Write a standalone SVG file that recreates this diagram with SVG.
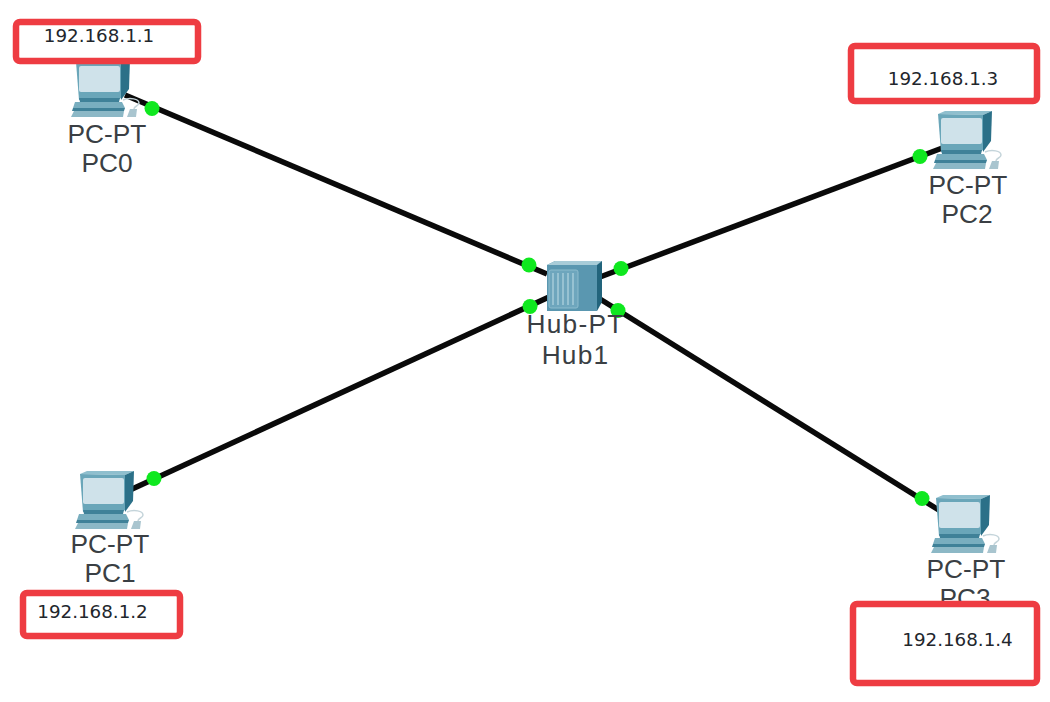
<svg xmlns="http://www.w3.org/2000/svg" width="1050" height="702" viewBox="0 0 1050 702">
<style>
.lbl{font-family:"Liberation Sans",Arial,sans-serif;font-size:26.3px;fill:#3a3f44;text-anchor:middle}
.hl{letter-spacing:1.2px}
.ip{font-family:"DejaVu Sans",sans-serif;font-size:18.3px;fill:#22262c;text-anchor:middle}
.box{fill:#fff;stroke:#ee3c42;stroke-width:6.5}
.link{stroke:#0a0a0a;stroke-width:5.5;fill:none}
.dot{fill:#0fe81f}
</style>
<defs>
<g id="pc">
<path d="M8 4 L15 1 L62 1 L53 5Z" fill="#8fbfce"/>
<path d="M8 4 L53 5 L53 40 L50 42 L11 42Z" fill="#6aa6b9"/>
<path d="M53 5 L62 1 L61 31 L53 42Z" fill="#2b7088"/>
<rect x="11" y="8" width="41" height="26" rx="2" fill="#cfe2ea"/>
<path d="M11 40 L52 40 L51 44 L12 44Z" fill="#3f8198"/>
<path d="M7 44 L54 44 L57 50 L5 50Z" fill="#79aebf"/>
<path d="M5 50 L57 50 L56 53 L4 53Z" fill="#3f8198"/>
<path d="M3 59 L6 53 L56 53 L55 59Z" fill="#8cb8c6"/>
<path d="M55 42 C62 39 71 41 71 45 C71 48 66 48 66 51" fill="none" stroke="#c4d4da" stroke-width="1.500"/>
<path d="M59 59 L62 51 L69 51 L68 59Z" fill="#a9c5cf"/>
</g>
</defs>
<rect width="1050" height="702" fill="#fff"/>
<g id="connectors">
<line class="link" x1="125" y1="95" x2="547" y2="274"/>
<line class="link" x1="130" y1="490" x2="549" y2="297"/>
<line class="link" x1="600" y1="277" x2="945" y2="147"/>
<line class="link" x1="600" y1="299" x2="942" y2="512"/>
<circle class="dot" cx="152" cy="108.500" r="7.500"/>
<circle class="dot" cx="529" cy="265" r="7.500"/>
<circle class="dot" cx="154" cy="478.500" r="7.500"/>
<circle class="dot" cx="530" cy="306.500" r="7.500"/>
<circle class="dot" cx="621" cy="268.500" r="7.500"/>
<circle class="dot" cx="920" cy="156.500" r="7.500"/>
<circle class="dot" cx="618" cy="310.500" r="7.500"/>
<circle class="dot" cx="922" cy="498.500" r="7.500"/>
</g>
<g id="hub">
<path d="M547 265 L555 261 L602 261 L597 265 L597 311 L547 311Z" fill="#5a97b0"/>
<path d="M547 265 L555 261 L602 261 L597 265Z" fill="#a8ccd8"/>
<path d="M597 265 L602 261 L602 302 L597 311Z" fill="#22647c"/>
<rect x="549" y="270" width="29" height="38" rx="2" fill="#6ea6bd" stroke="#8cbccd"/>
<path d="M553 273V305M558 273V305M563 273V305M568 273V305M573 273V305" stroke="#a5cbd9" stroke-width="1.500"/>
<text class="lbl hl" x="575.500" y="333">Hub-PT</text>
<text class="lbl hl" x="575.500" y="364">Hub1</text>
</g>
<g id="pc0">
<use href="#pc" x="68" y="58"/>
<text class="lbl" x="107" y="143">PC-PT</text>
<text class="lbl" x="107" y="172">PC0</text>
</g>
<g id="pc1">
<use href="#pc" x="72" y="470"/>
<text class="lbl" x="110" y="553">PC-PT</text>
<text class="lbl" x="110" y="582">PC1</text>
</g>
<g id="pc2">
<use href="#pc" x="930" y="110"/>
<text class="lbl" x="968" y="194">PC-PT</text>
<text class="lbl" x="967" y="223">PC2</text>
</g>
<g id="pc3">
<use href="#pc" x="928" y="494"/>
<text class="lbl" x="966" y="578">PC-PT</text>
<text class="lbl" x="965" y="607">PC3</text>
</g>
<g id="ip1">
<rect class="box" x="16" y="22" width="182" height="39" rx="4"/>
<text class="ip" x="99" y="42">192.168.1.1</text>
</g>
<g id="ip3">
<rect class="box" x="851" y="46" width="186" height="55" rx="4"/>
<text class="ip" x="943" y="85">192.168.1.3</text>
</g>
<g id="ip2">
<rect class="box" x="23" y="593" width="157" height="43" rx="4"/>
<text class="ip" x="92.500" y="618">192.168.1.2</text>
</g>
<g id="ip4">
<rect class="box" x="853" y="604" width="184" height="79" rx="4"/>
<text class="ip" x="957.500" y="646">192.168.1.4</text>
</g>
</svg>
